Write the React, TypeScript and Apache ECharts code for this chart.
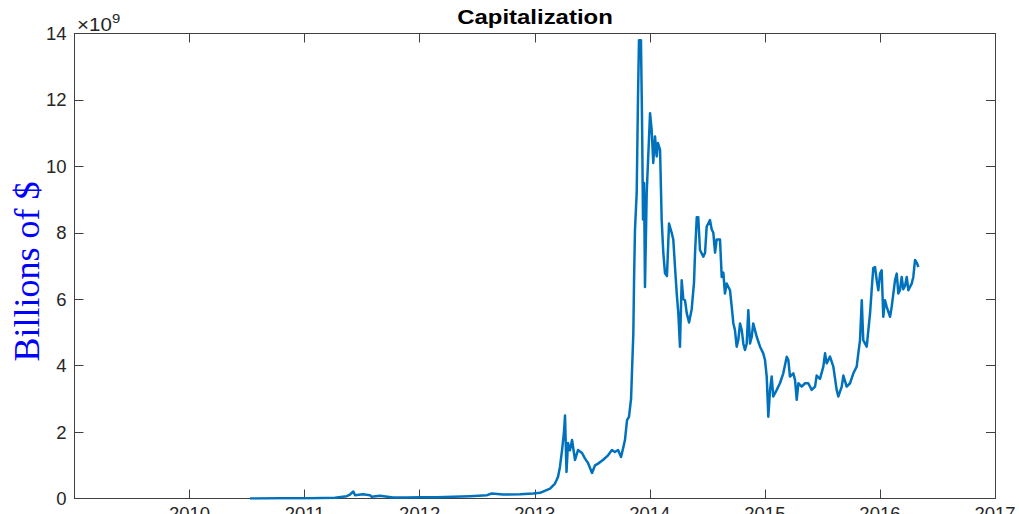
import { useEffect, useRef } from "react";
import * as echarts from "echarts";

// Market capitalization over time, in billions of dollars (axis shows ×10^9)
const years = [
  2010.525, 2010.786, 2011.047, 2011.264, 2011.366, 2011.394, 2011.423, 2011.438,
  2011.507, 2011.568, 2011.583, 2011.655, 2011.768, 2011.89, 2012.003, 2012.15,
  2012.29, 2012.437, 2012.585, 2012.626, 2012.724, 2012.872, 2012.985, 2013.046,
  2013.133, 2013.176, 2013.202, 2013.219, 2013.237, 2013.254, 2013.263, 2013.276,
  2013.289, 2013.306, 2013.324, 2013.35, 2013.376, 2013.411, 2013.437, 2013.463,
  2013.498, 2013.524, 2013.55, 2013.593, 2013.637, 2013.671, 2013.697, 2013.724,
  2013.75, 2013.767, 2013.784, 2013.802, 2013.819, 2013.837, 2013.845, 2013.857,
  2013.863, 2013.871, 2013.886, 2013.897, 2013.906, 2013.923, 2013.932, 2013.941,
  2013.95, 2013.958, 2013.973, 2014.002, 2014.016, 2014.03, 2014.045, 2014.06,
  2014.071, 2014.089, 2014.103, 2014.117, 2014.132, 2014.149, 2014.167, 2014.19,
  2014.204, 2014.219, 2014.234, 2014.248, 2014.262, 2014.277, 2014.291, 2014.306,
  2014.321, 2014.341, 2014.364, 2014.384, 2014.393, 2014.408, 2014.421, 2014.436,
  2014.465, 2014.48, 2014.494, 2014.523, 2014.538, 2014.552, 2014.567, 2014.581,
  2014.61, 2014.625, 2014.639, 2014.653, 2014.668, 2014.697, 2014.712, 2014.726,
  2014.74, 2014.755, 2014.769, 2014.784, 2014.799, 2014.813, 2014.827, 2014.842,
  2014.856, 2014.871, 2014.886, 2014.899, 2014.914, 2014.929, 2014.958, 2014.986,
  2015.001, 2015.016, 2015.03, 2015.045, 2015.059, 2015.073, 2015.103, 2015.131,
  2015.16, 2015.19, 2015.204, 2015.218, 2015.247, 2015.262, 2015.277, 2015.291,
  2015.32, 2015.349, 2015.377, 2015.407, 2015.436, 2015.45, 2015.479, 2015.508,
  2015.523, 2015.537, 2015.566, 2015.595, 2015.624, 2015.638, 2015.668, 2015.682,
  2015.711, 2015.74, 2015.769, 2015.798, 2015.812, 2015.827, 2015.842, 2015.855,
  2015.885, 2015.914, 2015.928, 2015.942, 2015.957, 2015.972, 2015.986, 2016.001,
  2016.015, 2016.029, 2016.044, 2016.059, 2016.088, 2016.102, 2016.131, 2016.146,
  2016.16, 2016.174, 2016.189, 2016.203, 2016.218, 2016.233, 2016.247, 2016.276,
  2016.29, 2016.305, 2016.32, 2016.334,
];

const capBillions = [
  0.0, 0.005, 0.01, 0.02, 0.07, 0.12, 0.21, 0.1,
  0.13, 0.1, 0.05, 0.08, 0.03, 0.03, 0.04, 0.04,
  0.05, 0.07, 0.1, 0.15, 0.12, 0.13, 0.15, 0.17,
  0.3, 0.45, 0.65, 0.95, 1.45, 2.0, 2.5, 0.8,
  1.67, 1.45, 1.76, 1.16, 1.46, 1.37, 1.2, 1.07,
  0.77, 1.0, 1.05, 1.16, 1.3, 1.46, 1.4, 1.46,
  1.25, 1.5, 1.76, 2.36, 2.46, 3.0, 3.8, 5.0,
  6.57, 8.08, 9.2, 12.0, 13.8, 13.8, 11.5, 8.4,
  9.5, 6.37, 9.2, 11.6, 11.1, 10.1, 10.9, 10.3,
  10.7, 10.5, 8.4, 7.42, 6.78, 6.7, 8.28, 8.0,
  7.8, 6.97, 6.17, 5.57, 4.57, 6.57, 6.0, 5.97,
  5.58, 5.3, 5.7, 6.5, 7.38, 8.47, 8.47, 7.48,
  7.28, 7.4, 8.18, 8.38, 8.1, 8.0, 7.4, 7.8,
  7.8, 6.67, 6.8, 6.17, 6.47, 6.27, 5.77, 5.27,
  5.07, 4.57, 4.77, 5.27, 5.07, 4.66, 4.47, 4.66,
  5.67, 4.67, 4.87, 5.27, 5.07, 4.87, 4.57, 4.37,
  4.17, 3.67, 2.46, 3.27, 3.67, 3.07, 3.27, 3.47,
  3.77, 4.27, 4.17, 3.67, 3.77, 3.57, 2.97, 3.47,
  3.37, 3.47, 3.47, 3.27, 3.37, 3.7, 3.6, 3.97,
  4.37, 4.07, 4.27, 3.97, 3.27, 3.07, 3.37, 3.7,
  3.37, 3.47, 3.77, 3.97, 4.37, 4.77, 5.97, 4.77,
  4.57, 5.57, 6.27, 6.94, 6.97, 6.57, 6.27, 6.77,
  6.87, 5.47, 5.97, 5.77, 5.47, 5.77, 6.57, 6.77,
  6.17, 6.27, 6.67, 6.3, 6.4, 6.67, 6.27, 6.47,
  6.67, 7.18, 7.1, 6.97,
];

const X_MIN = 2009;
const X_MAX = 2017;
const Y_MIN = 0;
const Y_MAX = 14;

const AXIS_COLOR = "#404040";
const LABEL_COLOR = "#262626";
const SANS = '"Liberation Sans", Arial, Helvetica, sans-serif';
const SERIF = '"Liberation Serif", "Times New Roman", serif';

function makeXAxis(position: "top" | "bottom") {
  return {
    type: "value",
    position,
    min: X_MIN,
    max: X_MAX,
    interval: 1,
    axisLine: { show: true, onZero: false, lineStyle: { color: AXIS_COLOR, width: 1 } },
    axisTick: { show: true, inside: true, length: 9, lineStyle: { color: AXIS_COLOR, width: 1 } },
    axisLabel: {
      show: position === "bottom",
      margin: 5,
      fontSize: 18.5,
      fontFamily: SANS,
      color: LABEL_COLOR,
      showMinLabel: true,
      showMaxLabel: true,
      hideOverlap: false,
      formatter: (v: number) => (v === X_MIN ? "" : String(v)),
    },
    splitLine: { show: false },
  };
}

function makeYAxis(position: "left" | "right") {
  return {
    type: "value",
    position,
    min: Y_MIN,
    max: Y_MAX,
    interval: 2,
    axisLine: { show: true, onZero: false, lineStyle: { color: AXIS_COLOR, width: 1 } },
    axisTick: { show: true, inside: true, length: 9, lineStyle: { color: AXIS_COLOR, width: 1 } },
    axisLabel: {
      show: position === "left",
      margin: 8,
      fontSize: 18.5,
      fontFamily: SANS,
      color: LABEL_COLOR,
      showMinLabel: true,
      showMaxLabel: true,
      hideOverlap: false,
    },
    splitLine: { show: false },
  };
}

export default function App() {
  const ref = useRef<HTMLDivElement>(null);

  useEffect(() => {
    if (!ref.current) return;
    const chart = echarts.init(ref.current, undefined, { renderer: "svg" });
    const points = years.map((t, i) => [t, capBillions[i]]);

    chart.setOption({
      animation: false,
      backgroundColor: "#ffffff",
      grid: {
        left: 74.5,
        right: 24,
        top: 33.5,
        bottom: 15.5,
        containLabel: false,
        outerBoundsMode: "none",
      },
      xAxis: [makeXAxis("bottom"), makeXAxis("top")],
      yAxis: [makeYAxis("left"), makeYAxis("right")],
      series: [
        {
          type: "line",
          xAxisIndex: 0,
          yAxisIndex: 0,
          data: points,
          showSymbol: false,
          symbol: "none",
          clip: true,
          lineStyle: { color: "#0072BD", width: 2.5, join: "round" },
        },
      ],
      graphic: [
        {
          type: "text",
          x: 535,
          y: 17.5,
          scaleX: 1.14,
          style: {
            text: "Capitalization",
            font: `bold 21px ${SANS}`,
            fill: "#000000",
            textAlign: "center",
            textVerticalAlign: "middle",
          },
        },
        {
          type: "text",
          x: 77,
          y: 25.3,
          scaleX: 1.14,
          style: {
            text: "×10",
            font: `18px ${SANS}`,
            fill: LABEL_COLOR,
            textAlign: "left",
            textVerticalAlign: "middle",
          },
        },
        {
          type: "text",
          x: 112,
          y: 18.5,
          scaleX: 1.14,
          style: {
            text: "9",
            font: `13px ${SANS}`,
            fill: LABEL_COLOR,
            textAlign: "left",
            textVerticalAlign: "middle",
          },
        },
        {
          type: "text",
          x: 27,
          y: 271.5,
          rotation: Math.PI / 2,
          style: {
            text: "Billions of $",
            font: `36px ${SERIF}`,
            fill: "#0000ff",
            textAlign: "center",
            textVerticalAlign: "middle",
          },
        },
      ],
    });

    return () => chart.dispose();
  }, []);

  return (
    <div
      ref={ref}
      style={{ position: "fixed", left: 0, top: 0, width: 1019, height: 514, background: "#fff" }}
    />
  );
}
